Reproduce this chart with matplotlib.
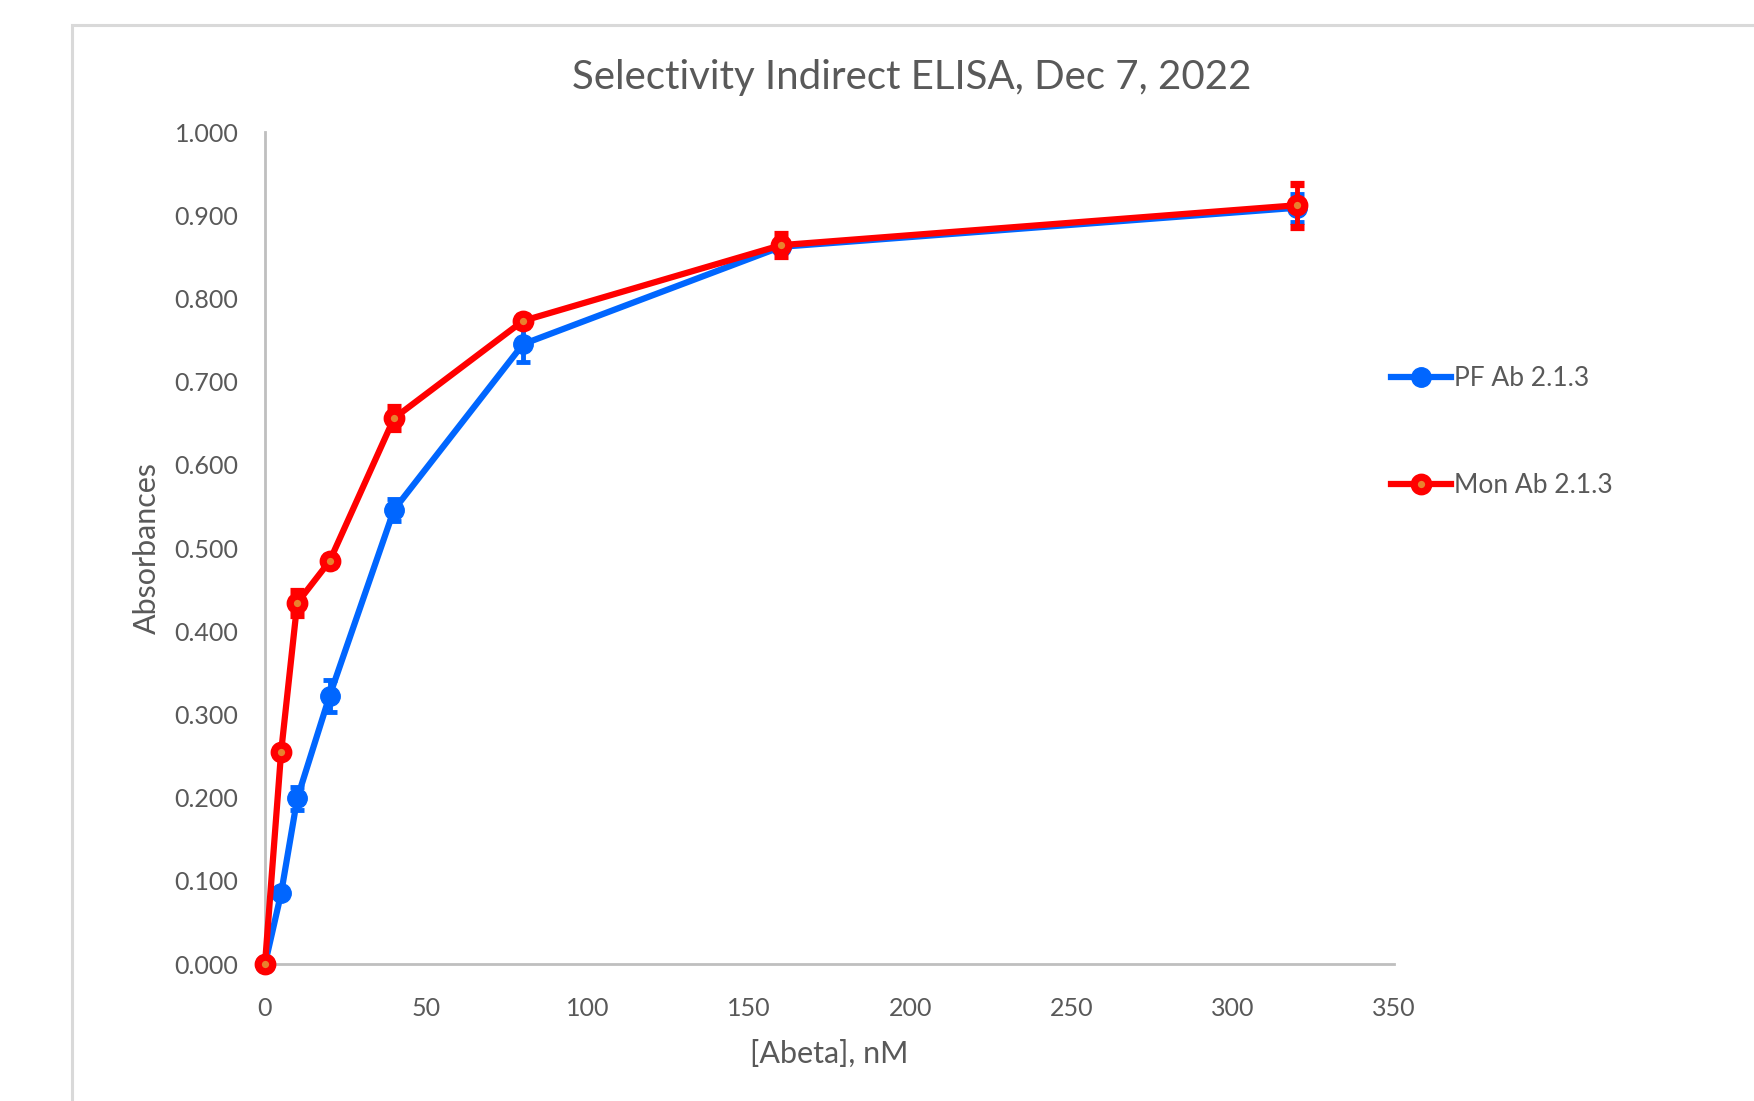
import matplotlib
matplotlib.use("Agg")
import matplotlib.pyplot as plt
from matplotlib.patches import Rectangle
from matplotlib.lines import Line2D

plt.rcParams['font.family'] = ['Lato', 'DejaVu Sans']

# [Abeta] in nM
conc = [0, 5, 10, 20, 40, 80, 160, 320]

# mean absorbance and error for each antibody
pf_abs = [0.000, 0.085, 0.199, 0.322, 0.546, 0.745, 0.862, 0.909]
pf_err = [0.000, 0.004, 0.014, 0.019, 0.013, 0.022, 0.006, 0.017]
mon_abs = [0.000, 0.255, 0.434, 0.484, 0.656, 0.773, 0.864, 0.912]
mon_err = [0.000, 0.004, 0.014, 0.006, 0.013, 0.006, 0.013, 0.026]

blue = '#0066FF'
red = '#FF0000'
grey_txt = '#595959'
grey_ax = '#BFBFBF'

fig = plt.figure(figsize=(17.54, 11.01), dpi=100)
ax = fig.add_axes([265/1754, 1 - 964/1101, (1394 - 265)/1754, (964 - 132)/1101])

# chart border
fig.patches.append(Rectangle((72/1754, -0.05), 1.5, 1 - 25/1101 + 0.05,
                             transform=fig.transFigure, fill=False,
                             edgecolor='#D9D9D9', linewidth=2.2))

pf_style = dict(color=blue, linewidth=4.5, marker='o', markersize=14,
                markerfacecolor=blue, markeredgecolor=blue)
mon_style = dict(color=red, linewidth=4.5, marker='o', markersize=10.5,
                 markerfacecolor='#E8812E', markeredgecolor=red,
                 markeredgewidth=5.2)

ax.errorbar(conc, pf_abs, yerr=pf_err, ecolor=blue, elinewidth=3.5,
            capsize=5, capthick=3.5, zorder=3, **pf_style)
ax.errorbar(conc, mon_abs, yerr=mon_err, ecolor=red, elinewidth=3.5,
            capsize=5, capthick=3.5, zorder=4, **mon_style)

ax.set_xlim(0, 350)
ax.set_ylim(0, 1.0)
ax.set_xticks(range(0, 351, 50))
ax.set_yticks([i / 10 for i in range(11)])
ax.set_yticklabels(['%.3f' % (i / 10) for i in range(11)])
ax.tick_params(length=0, labelsize=18, colors=grey_txt)
ax.tick_params(axis='y', pad=19)
ax.tick_params(axis='x', pad=24)

for s in ['top', 'right']:
    ax.spines[s].set_visible(False)
for s in ['left', 'bottom']:
    ax.spines[s].set_color(grey_ax)
    ax.spines[s].set_linewidth(2)
for l in ax.lines:
    l.set_clip_on(False)

ax.set_xlabel('[Abeta], nM', fontsize=22, color=grey_txt, labelpad=14)
ax.set_ylabel('Absorbances', fontsize=22, color=grey_txt, labelpad=10)

fig.text(912/1754, 1 - 78/1101, 'Selectivity Indirect ELISA, Dec 7, 2022',
         fontsize=29, color=grey_txt, ha='center', va='center')

handles = [Line2D([], [], **pf_style), Line2D([], [], **mon_style)]
fig.legend(handles, ['PF Ab 2.1.3', 'Mon Ab 2.1.3'],
           loc='center left', bbox_to_anchor=(1367/1754, 1 - 432/1101),
           frameon=False, fontsize=19, labelcolor=grey_txt,
           handlelength=2.3, handletextpad=0.1, labelspacing=3.1)

fig.savefig('out.png', dpi=100, facecolor='white')
